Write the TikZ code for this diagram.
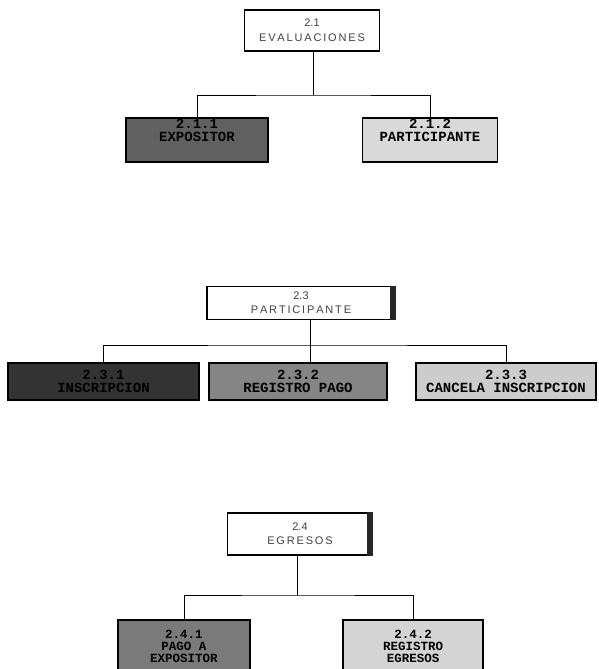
\documentclass[tikz,border=0pt]{standalone}
\usepackage{fontspec}
\setmainfont{Liberation Sans}
\newfontfamily\boxmono{Liberation Mono}
\begin{document}
\begin{tikzpicture}[x=1pt,y=-1pt,
  parent/.style={draw=black, line width=1.1pt, fill=white, align=center, inner sep=0pt,
    font=\fontsize{11}{14}\selectfont, text=black!75},
  child/.style={draw=black, line width=1.1pt, align=center, inner sep=0pt,
    font=\boxmono\bfseries\fontsize{14}{13}\selectfont, text=black},
  childs/.style={child, font=\boxmono\bfseries\fontsize{12.5}{12}\selectfont},
  conn/.style={draw=black, line width=1pt},
  shadow/.style={fill=black!85}]
\useasboundingbox (0,0) rectangle (599,669);
% ---------- top ----------
\node[parent, minimum width=135pt, minimum height=41pt] (p1) at (312,30.5) {2.1\\[1pt]E\,V\,A\,L\,U\,A\,C\,I\,O\,N\,E\,S};
\node[child, fill=black!62, minimum width=142pt, minimum height=44pt] (c11) at (197,140) {2.1.1\\EXPOSITOR\\[6pt]};
\node[child, fill=black!15, minimum width=135pt, minimum height=44pt] (c12) at (430,140) {2.1.2\\PARTICIPANTE\\[6pt]};
\coordinate (j1) at (313,95);
\draw[conn] (p1.south -| j1) -- (j1);
\draw[conn] (c11.north) |- (j1) -| (c12.north);
% ---------- middle ----------
\node[parent, minimum width=188pt, minimum height=33pt] (p2) at (301,303) {2.3\\P\,A\,R\,T\,I\,C\,I\,P\,A\,N\,T\,E};
\fill[shadow] ([xshift=-6pt]p2.north east) rectangle (p2.south east);
\node[child, fill=black!80, minimum width=191pt, minimum height=37pt] (c21) at (103.5,381.5) {2.3.1\\INSCRIPCION};
\node[child, fill=black!48, minimum width=178pt, minimum height=37pt] (c22) at (298,381.5) {2.3.2\\REGISTRO PAGO};
\node[child, fill=black!20, minimum width=180pt, minimum height=37pt] (c23) at (506,381.5) {2.3.3\\CANCELA INSCRIPCION};
\coordinate (j2) at (310,345);
\draw[conn] (p2.south -| j2) -- (j2);
\draw[conn] (c21.north) |- (j2) -| (c23.north);
\draw[conn] (j2) -- (c22.north -| j2);
% ---------- bottom ----------
\node[parent, minimum width=145pt, minimum height=42pt] (p3) at (300,534) {2.4\\E\,G\,R\,E\,S\,O\,S};
\fill[shadow] ([xshift=-6pt]p3.north east) rectangle (p3.south east);
\node[childs, fill=black!52, minimum width=132pt, minimum height=52pt] (c31) at (184,646) {2.4.1\\PAGO A\\EXPOSITOR};
\node[childs, fill=black!17, minimum width=140pt, minimum height=52pt] (c32) at (413,646) {2.4.2\\REGISTRO\\EGRESOS};
\coordinate (j3) at (297,595);
\draw[conn] (p3.south -| j3) -- (j3);
\draw[conn] (c31.north) |- (j3) -| (c32.north);
\end{tikzpicture}
\end{document}
